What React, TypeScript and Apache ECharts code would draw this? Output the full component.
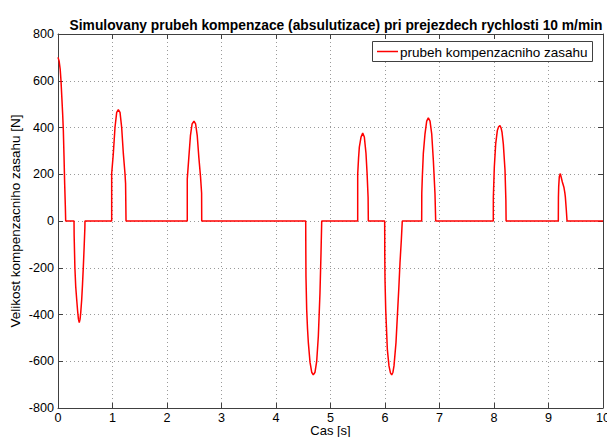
import React, { useEffect, useRef } from "react";
import * as echarts from "echarts";

const titleText =
  "Simulovany prubeh kompenzace (absulutizace) pri prejezdech rychlosti 10 m/min";
const seriesName = "prubeh kompenzacniho zasahu";
const xName = "Cas [s]";
const yName = "Velikost kompenzacniho zasahu [N]";

const timeS: number[] = [
  0, 0.02, 0.04, 0.055, 0.07, 0.085, 0.098, 0.11, 0.122, 0.135, 0.141,
  0.294, 0.296, 0.31, 0.325, 0.343, 0.36, 0.375, 0.39, 0.405, 0.418, 0.435, 0.45, 0.465, 0.48, 0.493, 0.495,
  0.985, 0.985, 1.015, 1.046, 1.077, 1.107, 1.138, 1.168, 1.199, 1.229, 1.24, 1.248,
  2.372, 2.372, 2.4, 2.43, 2.46, 2.495, 2.525, 2.555, 2.585, 2.615, 2.635, 2.637,
  4.545, 4.547, 4.55, 4.563, 4.578, 4.593, 4.624, 4.655, 4.684, 4.716, 4.747, 4.777, 4.807, 4.826, 4.839,
  5.499, 5.499, 5.515, 5.529, 5.56, 5.591, 5.621, 5.651, 5.672, 5.69, 5.694,
  5.994, 5.996, 6.0, 6.013, 6.043, 6.073, 6.1, 6.123, 6.145, 6.165, 6.202, 6.233, 6.255, 6.275, 6.3, 6.317,
  6.673, 6.675, 6.685, 6.703, 6.734, 6.765, 6.795, 6.826, 6.857, 6.887, 6.917, 6.93,
  7.987, 7.988, 8.006, 8.031, 8.061, 8.085, 8.11, 8.13, 8.147, 8.171, 8.202, 8.218, 8.222,
  9.18, 9.182, 9.187, 9.198, 9.217, 9.235, 9.254, 9.284, 9.3, 9.309, 9.327, 9.34, 10,
];

const forceN: number[] = [
  700, 685, 650, 600, 530, 460, 387, 280, 162, 60, 0,
  0, -60, -200, -280, -336, -385, -420, -435, -420, -390, -336, -270, -194, -110, -30, 0,
  0, 203, 288, 401, 465, 476, 465, 401, 288, 203, 160, 0,
  0, 180, 270, 365, 415, 427, 415, 365, 270, 190, 120, 0,
  0, -120, -237, -379, -460, -519, -604, -647, -658, -647, -599, -492, -307, -136, 0,
  0, 200, 270, 316, 359, 376, 359, 290, 200, 100, 0,
  0, -150, -250, -379, -549, -620, -650, -658, -648, -620, -519, -379, -280, -179, -80, 0,
  0, 120, 189, 288, 373, 427, 441, 427, 373, 260, 118, 0,
  0, 103, 231, 330, 387, 403, 408, 398, 380, 330, 217, 89, 0,
  0, 100, 146, 189, 203, 185, 167, 143, 120, 103, 47, 0, 0,
];

const FONT = "'Liberation Sans', Arial, Helvetica, sans-serif";
const axisColor = "#404040";

export default function App() {
  const ref = useRef<HTMLDivElement>(null);
  useEffect(() => {
    if (!ref.current) return;
    const chart = echarts.init(ref.current, undefined, { renderer: "svg" });
    const data = timeS.map((t, i) => [t, forceN[i]]);
    const baseAxis = {
      type: "value" as const,
      axisLine: { show: true, onZero: false, lineStyle: { color: axisColor, width: 1 } },
      axisTick: { show: true, inside: true, length: 5, lineStyle: { color: axisColor } },
    };
    chart.setOption({
      animation: false,
      backgroundColor: "#ffffff",
      textStyle: { fontFamily: FONT },
      title: {
        text: titleText,
        left: 331,
        textAlign: "center",
        top: 13,
        textStyle: { fontFamily: FONT, fontSize: 13.8, fontWeight: "bold", color: "#000" },
      },
      grid: { left: 58, right: 4, top: 34, bottom: 29, containLabel: false, outerBoundsMode: "none" },
      graphic: [
        {
          type: "rect",
          shape: { x: 372.5, y: 41.5, width: 220, height: 20 },
          style: { fill: "#fff", stroke: "#404040", lineWidth: 1 },
          z: 100,
        },
        {
          type: "line",
          shape: { x1: 377, y1: 51.5, x2: 398, y2: 51.5 },
          style: { stroke: "#ff0000", lineWidth: 1.5 },
          z: 101,
        },
        {
          type: "text",
          x: 400,
          y: 52,
          style: {
            text: seriesName,
            fontFamily: FONT,
            fontSize: 13.5,
            fill: "#000",
            verticalAlign: "middle",
            align: "left",
          },
          z: 101,
        },
      ],
      xAxis: [
        {
          ...baseAxis,
          min: 0,
          max: 10,
          interval: 1,
          position: "bottom",
          axisLabel: { fontFamily: FONT, fontSize: 12.6, color: "#000", margin: 3 },
          splitLine: { show: true, lineStyle: { type: [1, 3], color: "#9a9a9a", width: 1 } },
          name: xName,
          nameLocation: "middle",
          nameGap: 16,
          nameMoveOverlap: false,
          nameTextStyle: { fontFamily: FONT, fontSize: 13, color: "#000", lineHeight: 13 },
        },
        {
          ...baseAxis,
          min: 0,
          max: 10,
          interval: 1,
          position: "top",
          axisLabel: { show: false },
          splitLine: { show: false },
        },
      ],
      yAxis: [
        {
          ...baseAxis,
          min: -800,
          max: 800,
          interval: 200,
          position: "left",
          axisLabel: { fontFamily: FONT, fontSize: 12.6, color: "#000", margin: 4 },
          splitLine: { show: true, lineStyle: { type: [1, 3], color: "#9a9a9a", width: 1 } },
          name: yName,
          nameLocation: "middle",
          nameRotate: 90,
          nameGap: 36,
          nameMoveOverlap: false,
          nameTextStyle: { fontFamily: FONT, fontSize: 13.5, color: "#000" },
        },
        {
          ...baseAxis,
          min: -800,
          max: 800,
          interval: 200,
          position: "right",
          axisLabel: { show: false },
          splitLine: { show: false },
        },
      ],
      series: [
        {
          name: seriesName,
          type: "line",
          data,
          xAxisIndex: 0,
          yAxisIndex: 0,
          symbol: "none",
          showSymbol: false,
          lineStyle: { color: "#ff0000", width: 1.5 },
          itemStyle: { color: "#ff0000" },
          z: 5,
        },
      ],
    });
    return () => chart.dispose();
  }, []);
  return (
    <div
      ref={ref}
      style={{ position: "fixed", left: 0, top: 0, width: 607, height: 437, background: "#fff" }}
    />
  );
}
